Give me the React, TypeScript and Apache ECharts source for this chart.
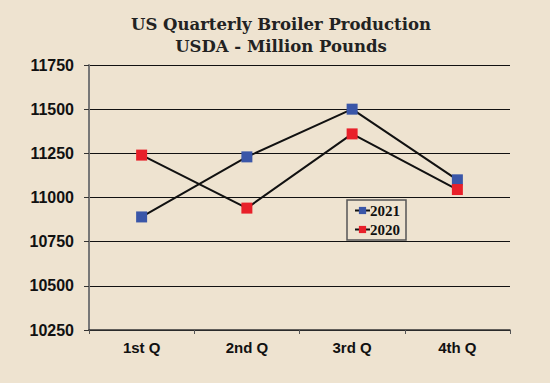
import React, { useEffect, useRef } from "react";
import * as echarts from "echarts";

const categories = ["1st Q", "2nd Q", "3rd Q", "4th Q"];
const series2021 = [10890, 11230, 11500, 11100];
const series2020 = [11240, 10940, 11360, 11045];
const yTicks = [10250, 10500, 10750, 11000, 11250, 11500, 11750];

export default function App() {
  const ref = useRef<HTMLDivElement>(null);
  useEffect(() => {
    const chart = echarts.init(ref.current!, null, { renderer: "svg" });
    chart.setOption({
      animation: false,
      backgroundColor: "#EEE3D0",
      title: {
        text: "US Quarterly Broiler Production\nUSDA - Million Pounds",
        left: 276,
        textAlign: "center",
        top: 8,
        textStyle: {
          fontFamily: "DejaVu Serif",
          fontWeight: "bold",
          fontSize: 16.5,
          color: "#222",
          lineHeight: 22,
        },
      },
      legend: {
        orient: "vertical",
        left: 347,
        top: 200,
        padding: [3, 6, 3, 7],
        itemGap: 4,
        itemWidth: 15,
        itemHeight: 9,
        borderColor: "#555",
        borderWidth: 1.5,
        backgroundColor: "#EEE3D0",
        data: ["2021", "2020"],
        textStyle: {
          fontFamily: "Liberation Serif",
          fontWeight: "bold",
          fontSize: 15,
          color: "#111",
          padding: [0, 0, 0, -5],
        },
      },
      grid: { left: 89, right: 40, top: 65, bottom: 53 },
      xAxis: {
        type: "category",
        data: categories,
        boundaryGap: true,
        axisLine: { lineStyle: { color: "#333", width: 1.5 } },
        axisTick: { show: true, length: 4, lineStyle: { color: "#555" } },
        axisLabel: {
          margin: 10,
          fontFamily: "Liberation Sans",
          fontWeight: "bold",
          fontSize: 15,
          color: "#111",
        },
      },
      yAxis: {
        type: "value",
        min: yTicks[0],
        max: yTicks[yTicks.length - 1],
        interval: 250,
        axisLine: { show: true, lineStyle: { color: "#777", width: 2 } },
        axisTick: { show: true, length: 5, lineStyle: { color: "#333" } },
        splitLine: { show: true, lineStyle: { color: "#111", width: 1 } },
        axisLabel: {
          margin: 15,
          fontFamily: "Liberation Sans",
          fontWeight: "bold",
          fontSize: 16,
          color: "#111",
          formatter: (v: number) => String(v),
        },
      },
      series: [
        {
          name: "2021",
          type: "line",
          data: series2021,
          symbol: "rect",
          symbolSize: 11,
          lineStyle: { color: "#111", width: 2 },
          itemStyle: { color: "#3A56A8" },
          z: 3,
        },
        {
          name: "2020",
          type: "line",
          data: series2020,
          symbol: "rect",
          symbolSize: 11,
          lineStyle: { color: "#111", width: 2 },
          itemStyle: { color: "#E8202A" },
          z: 4,
        },
      ],
    });
    return () => chart.dispose();
  }, []);
  return (
    <div
      ref={ref}
      style={{ position: "fixed", left: 0, top: 0, width: 550, height: 383 }}
    />
  );
}
